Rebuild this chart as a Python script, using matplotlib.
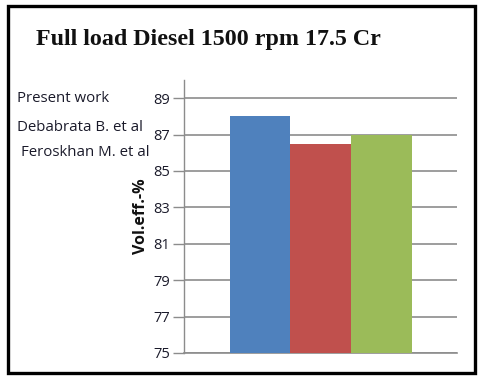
import matplotlib
matplotlib.use('Agg')
import matplotlib.pyplot as plt
from matplotlib.patches import Rectangle

# data
series = ['Present work', 'Debabrata B. et al', 'Feroskhan M. et al']
vol_eff = [88.0, 86.5, 87.0]
colors = ['#4F81BD', '#C0504D', '#9BBB59']
yticks = [75, 77, 79, 81, 83, 85, 87, 89]

fig = plt.figure(figsize=(4.8, 3.78), dpi=100)
ax = fig.add_axes([184 / 480, 1 - 353 / 378, 273 / 480, 273 / 378])

ax.bar(range(len(vol_eff)), [v - 75 for v in vol_eff], bottom=75, width=1.0,
       color=colors, zorder=3)

ax.set_ylim(75, 90)
ax.set_xlim(-1.25, 3.25)
ax.set_yticks(yticks)
ax.set_xticks([])
ax.grid(axis='y', color='#8c8c8c', linewidth=1.2, zorder=0)
ax.tick_params(axis='y', direction='out', length=8, width=1.0, color='#8c8c8c',
               labelsize=10.5, labelcolor='#1a1a2a', pad=2)
for t in ax.get_yticklabels():
    t.set_fontfamily('Open Sans')
for s in ['top', 'right']:
    ax.spines[s].set_visible(False)
ax.spines['left'].set_color('#8c8c8c')
ax.spines['bottom'].set_color('#8c8c8c')
ax.spines['left'].set_linewidth(1.0)
ax.spines['bottom'].set_linewidth(1.2)

fig.text(141 / 480, 1 - 216 / 378, 'Vol.eff.-%', rotation=90, ha='center', va='center',
         fontsize=11.5, fontweight='bold', family='Open Sans', color='#111111')

# title
fig.text(36 / 480, 1 - 40 / 378, 'Full load Diesel 1500 rpm 17.5 Cr', ha='left', va='center',
         fontsize=17.3, fontweight='bold', family='Liberation Serif', color='#111111')

# left-hand labels (legend-style text)
label_pos = [(17, 99), (17, 127), (21, 153)]
for name, (px, py) in zip(series, label_pos):
    fig.text(px / 480, 1 - py / 378, name, ha='left', va='center',
             fontsize=10.8, family='Open Sans', color='#1a1a2a')

# frame
fig.patches.append(Rectangle((7.5 / 480, 1 - 373 / 378), 467 / 480, 367 / 378,
                             transform=fig.transFigure, fill=False,
                             edgecolor='black', linewidth=2.4))

fig.savefig('out.png', dpi=100)
